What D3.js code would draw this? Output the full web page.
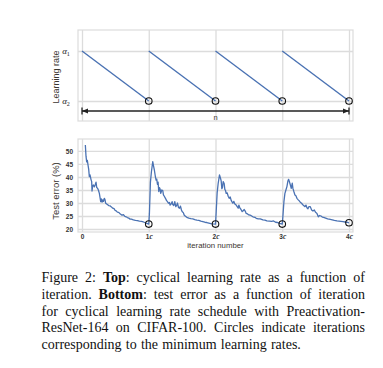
<!DOCTYPE html>
<html><head><meta charset="utf-8">
<script src="https://cdn.jsdelivr.net/npm/d3@7"></script>
<style>body{margin:0;background:#fff}svg{display:block}</style>
</head><body>
<svg id="c" width="383" height="368"></svg>
<script>
// ---------- data ----------
const cycleTicks = [0, 1, 2, 3, 4];
const cycleTickLabels = ["0", "1c", "2c", "3c", "4c"];
const lrCycleStart = [0, 1, 2, 3];
const lrCycleEnd = [1, 2, 3, 4];
const lrLevels = [1, 0];            // alpha1 (max), alpha2 (min)
const lrLevelLabels = ["1", "2"];   // subscripts of alpha
const minLrIter = [1, 2, 3, 4];
const minLrErr = [21.9, 21.9, 21.9, 22.4];
const errTicks = [20, 25, 30, 35, 40, 45, 50];

const iters = [
 0.05,0.06,0.07,0.08,0.09,0.10,0.11,0.12,0.135,0.145,0.15,0.16,0.17,0.185,0.20,0.21,0.22,0.235,0.245,0.26,0.27,0.28,0.29,0.30,0.31,0.32,0.335,0.345,0.355,0.37,0.385,0.40,0.42,0.44,0.46,0.48,0.495,0.51,0.53,0.55,0.57,0.585,0.60,0.62,0.64,0.66,0.68,0.70,0.72,0.74,0.77,0.80,0.83,0.86,0.89,0.92,0.95,0.97,1.00,
 1.01,1.025,1.04,1.06,1.07,1.085,1.10,1.11,1.12,1.13,1.14,1.15,1.16,1.17,1.18,1.195,1.21,1.22,1.235,1.25,1.265,1.28,1.295,1.31,1.32,1.335,1.35,1.36,1.375,1.39,1.405,1.42,1.43,1.445,1.46,1.475,1.49,1.50,1.52,1.53,1.55,1.57,1.60,1.63,1.66,1.69,1.72,1.75,1.78,1.81,1.84,1.87,1.90,1.93,1.96,2.00,
 2.01,2.025,2.04,2.06,2.075,2.085,2.095,2.105,2.115,2.13,2.14,2.15,2.16,2.175,2.19,2.205,2.22,2.235,2.25,2.26,2.275,2.29,2.31,2.325,2.34,2.35,2.365,2.38,2.40,2.415,2.43,2.445,2.46,2.48,2.50,2.53,2.56,2.59,2.61,2.64,2.67,2.71,2.74,2.77,2.81,2.84,2.87,2.90,2.93,2.96,3.00,
 3.01,3.025,3.04,3.055,3.07,3.085,3.095,3.105,3.115,3.125,3.135,3.15,3.16,3.175,3.19,3.205,3.22,3.24,3.255,3.27,3.29,3.305,3.32,3.34,3.355,3.37,3.385,3.40,3.42,3.44,3.46,3.48,3.50,3.52,3.54,3.56,3.58,3.60,3.62,3.65,3.68,3.72,3.75,3.78,3.82,3.85,3.88,3.91,3.94,3.97,4.00
];
const testError = [
 52.3,48.0,45.8,46.4,44.6,43.0,40.1,40.8,39.0,38.2,34.6,36.6,36.9,36.2,37.2,38.0,36.0,35.6,35.0,33.7,32.2,30.5,31.6,30.3,31.2,30.6,31.8,31.2,29.9,29.6,29.3,29.0,28.9,28.5,28.0,27.8,27.2,27.0,26.5,26.4,25.9,25.6,25.3,25.5,24.9,24.7,24.4,24.2,23.8,23.8,23.5,23.3,23.2,23.0,22.9,22.7,22.4,22.2,21.9,
 26.0,38.0,42.0,45.9,44.5,42.5,40.0,38.8,39.2,37.2,38.0,34.4,35.9,35.4,33.7,35.0,34.8,33.1,32.5,31.8,31.0,30.5,29.9,30.2,29.2,29.6,30.5,29.4,29.0,30.5,28.6,29.2,30.0,28.3,28.0,28.8,27.3,26.7,26.2,25.4,24.9,24.5,24.2,24.0,23.9,23.6,23.4,23.3,23.0,22.8,22.6,22.5,22.3,22.1,22.0,21.9,
 26.5,34.0,37.5,40.8,39.5,38.5,35.5,36.0,38.2,37.5,35.2,34.8,33.7,33.9,32.6,31.8,32.3,31.0,30.3,29.9,30.6,29.6,29.2,28.6,28.0,29.2,28.1,27.6,26.7,27.0,27.5,26.9,26.0,25.8,25.4,25.2,24.7,24.5,24.1,23.9,23.9,23.5,23.4,23.1,23.0,22.9,23.1,22.6,22.5,22.2,21.9,
 25.0,30.5,33.7,35.0,36.3,38.5,39.1,38.4,37.5,36.6,35.6,37.6,35.6,34.3,33.1,32.8,31.8,31.2,30.8,30.3,29.9,29.4,29.0,28.6,29.2,28.2,27.8,28.6,28.6,27.3,26.9,27.3,26.4,26.0,24.7,25.2,25.0,24.6,24.5,24.2,23.9,23.7,23.5,23.3,23.1,23.0,22.9,22.8,22.7,22.6,22.4
];

const captionLines = [
  [[["Figure",0]],[["2:",0]],[["Top",1],[":",0]],[["cyclical",0]],[["learning",0]],[["rate",0]],[["as",0]],[["a",0]],[["function",0]],[["of",0]]],
  [[["iteration.",0]],[["Bottom",1],[":",0]],[["test",0]],[["error",0]],[["as",0]],[["a",0]],[["function",0]],[["of",0]],[["iteration",0]]],
  [[["for",0]],[["cyclical",0]],[["learning",0]],[["rate",0]],[["schedule",0]],[["with",0]],[["Preactivation-",0]]],
  [[["ResNet-164",0]],[["on",0]],[["CIFAR-100.",0]],[["Circles",0]],[["indicate",0]],[["iterations",0]]],
  [[["corresponding",0]],[["to",0]],[["the",0]],[["minimum",0]],[["learning",0]],[["rates.",0]]]
];

// ---------- drawing ----------
const svg = d3.select("#c");
const sans = "'Liberation Sans', Arial, sans-serif";
const serif = "'Liberation Serif', 'Times New Roman', serif";
const gridCol = "#dcdcdc", lineCol = "#4a72b3", labCol = "#3a3530";

const x = d3.scaleLinear().domain([-0.06, 4.06]).range([78, 353]);
const yTop = d3.scaleLinear().domain([-0.4, 1.42]).range([121, 30]);
const yBot = d3.scaleLinear().domain([18.85, 54.6]).range([232, 139]);

function frame(y) {
  const [y0, y1] = y.range();
  svg.append("rect").attr("x", x.range()[0]).attr("y", y1)
    .attr("width", x.range()[1] - x.range()[0]).attr("height", y0 - y1)
    .attr("fill", "none").attr("stroke", gridCol).attr("stroke-width", 1.2);
  const gx = d3.axisBottom(x).tickValues(cycleTicks).tickSize(-(y0 - y1)).tickFormat("");
  const g = svg.append("g").attr("transform", `translate(0,${y0})`).call(gx);
  g.select(".domain").remove();
  g.selectAll("line").attr("stroke", gridCol).attr("stroke-width", 1.3);
}

// ---- top panel ----
frame(yTop);
const gyT = svg.append("g").attr("transform", `translate(${x.range()[0]},0)`)
  .call(d3.axisLeft(yTop).tickValues(lrLevels).tickSize(-(x.range()[1] - x.range()[0])).tickFormat(""));
gyT.select(".domain").remove();
gyT.selectAll("line").attr("stroke", gridCol).attr("stroke-width", 1.3);
lrLevels.forEach((v, i) => {
  const t = svg.append("text").attr("x", 66).attr("y", yTop(v) + 2.5)
    .attr("text-anchor", "middle").attr("font-family", serif).attr("font-size", 9).attr("fill", "#222");
  t.append("tspan").attr("font-style", "italic").text("α");
  t.append("tspan").attr("font-size", 6).attr("dy", 2).text(lrLevelLabels[i]);
});
svg.append("text").attr("transform", `translate(59,${(yTop(1) + yTop(0)) / 2 + 1}) rotate(-90)`)
  .attr("text-anchor", "middle").attr("font-family", sans).attr("font-size", 9).attr("fill", labCol)
  .text("Learning rate");

svg.append("g").selectAll("line").data(lrCycleStart).join("line")
  .attr("x1", d => x(d)).attr("y1", yTop(lrLevels[0]))
  .attr("x2", (d, i) => x(lrCycleEnd[i])).attr("y2", yTop(lrLevels[1]))
  .attr("stroke", lineCol).attr("stroke-width", 1.4);
svg.append("g").selectAll("circle").data(minLrIter).join("circle")
  .attr("cx", d => x(d)).attr("cy", yTop(lrLevels[1])).attr("r", 3.3)
  .attr("fill", "none").attr("stroke", "#111").attr("stroke-width", 1.1);

// arrow for n
const ay = yTop(-0.2), ax0 = x(cycleTicks[0]), ax1 = x(cycleTicks[cycleTicks.length - 1]);
svg.append("line").attr("x1", ax0).attr("x2", ax1).attr("y1", ay).attr("y2", ay)
  .attr("stroke", "#222").attr("stroke-width", 1.5);
[[ax0, 1], [ax1, -1]].forEach(([px, dir]) => {
  svg.append("path").attr("d", `M${px},${ay} l${dir * 6},-2.6 l0,5.2 Z`).attr("fill", "#222");
  svg.append("line").attr("x1", px).attr("x2", px).attr("y1", ay - 3.5).attr("y2", ay + 3.5)
    .attr("stroke", "#222").attr("stroke-width", 1.3);
});
svg.append("text").attr("x", (ax0 + ax1) / 2).attr("y", ay + 8.5).attr("text-anchor", "middle")
  .attr("font-family", sans).attr("font-size", 7.5).attr("fill", labCol).text("n");

// ---- bottom panel ----
frame(yBot);
const gyB = svg.append("g").attr("transform", `translate(${x.range()[0]},0)`)
  .call(d3.axisLeft(yBot).tickValues(errTicks).tickSize(-(x.range()[1] - x.range()[0])).tickPadding(5));
gyB.select(".domain").remove();
gyB.selectAll("line").attr("stroke", gridCol).attr("stroke-width", 1.3);
gyB.selectAll("text").attr("font-family", sans).attr("font-size", 6.5).attr("font-weight", "bold").attr("fill", "#333");

const gxB = svg.append("g").attr("transform", `translate(0,${yBot.range()[0]})`)
  .call(d3.axisBottom(x).tickValues(cycleTicks).tickSize(0).tickFormat(""));
gxB.select(".domain").remove();
gxB.selectAll(".tick").each(function (d, i) {
  const lab = cycleTickLabels[i];
  const t = d3.select(this).append("text").attr("y", 7).attr("text-anchor", "middle")
    .attr("font-family", sans).attr("font-size", 6.5).attr("font-weight", "bold").attr("fill", "#333");
  if (lab.endsWith("c")) {
    t.append("tspan").text(lab.slice(0, -1));
    t.append("tspan").attr("font-family", serif).attr("font-style", "italic")
      .attr("font-size", 7.5).text("c");
  } else t.text(lab);
});
svg.append("text").attr("transform", `translate(59,${(yBot(20) + yBot(50)) / 2 + 1}) rotate(-90)`)
  .attr("text-anchor", "middle").attr("font-family", sans).attr("font-size", 9.5).attr("fill", labCol)
  .text("Test error (%)");
svg.append("text").attr("x", (ax0 + ax1) / 2).attr("y", 248).attr("text-anchor", "middle")
  .attr("font-family", sans).attr("font-size", 7.8).attr("fill", labCol).text("iteration number");

const pts = iters.map((v, i) => [v, testError[i]]);
svg.append("path").datum(pts)
  .attr("d", d3.line().x(d => x(d[0])).y(d => yBot(d[1])))
  .attr("fill", "none").attr("stroke", lineCol).attr("stroke-width", 1.3).attr("stroke-linejoin", "round");
svg.append("g").selectAll("circle").data(minLrIter).join("circle")
  .attr("cx", d => x(d)).attr("cy", (d, i) => yBot(minLrErr[i])).attr("r", 3.3)
  .attr("fill", "none").attr("stroke", "#111").attr("stroke-width", 1.1);

// ---- caption (justified) ----
const capX0 = 41.5, capX1 = 365, capY0 = 282, capDy = 16.8, capFs = 14;
captionLines.forEach((words, li) => {
  const y = capY0 + li * capDy;
  const nodes = words.map(w => {
    const t = svg.append("text").attr("y", y).attr("font-family", serif)
      .attr("font-size", capFs).attr("fill", "#111");
    w.forEach(([s, b]) => t.append("tspan").attr("font-weight", b ? "bold" : "normal").text(s));
    return t;
  });
  const widths = nodes.map(n => n.node().getComputedTextLength());
  const total = d3.sum(widths);
  const last = li === captionLines.length - 1;
  const gap = last ? capFs * 0.3 : (capX1 - capX0 - total) / (nodes.length - 1);
  let cx = capX0;
  nodes.forEach((n, i) => { n.attr("x", cx); cx += widths[i] + gap; });
});
</script>
</body></html>
